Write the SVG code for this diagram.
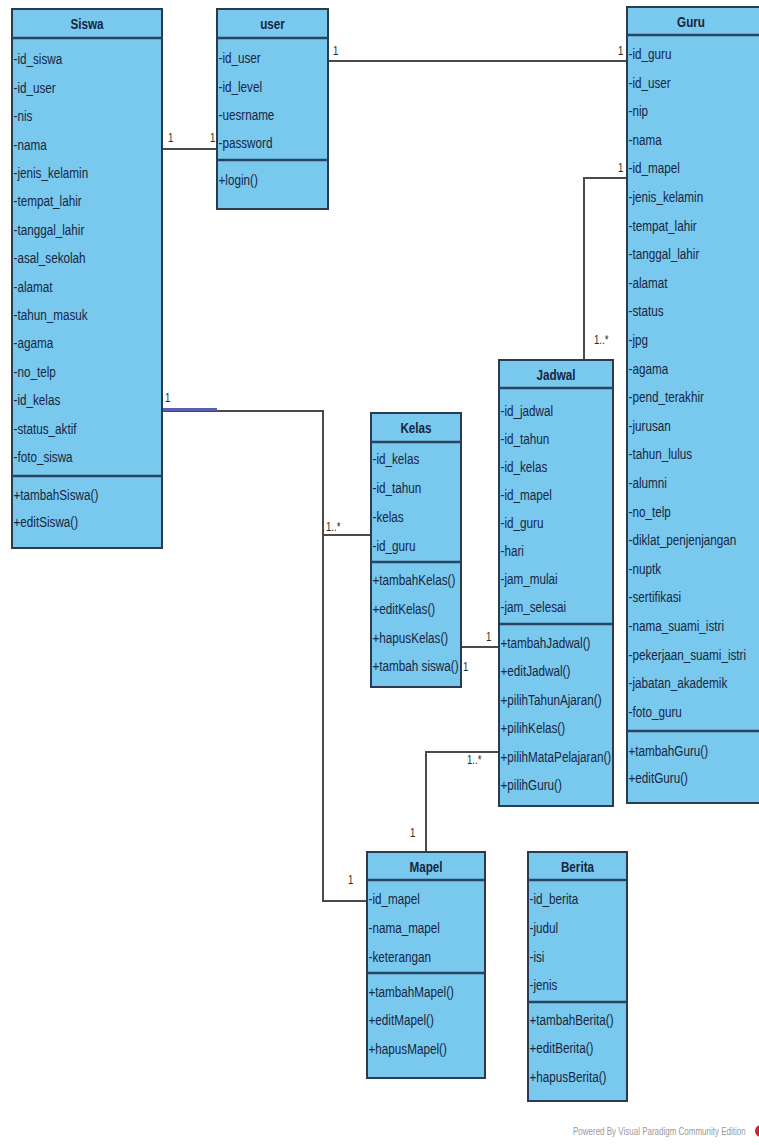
<svg xmlns="http://www.w3.org/2000/svg" width="759" height="1145" viewBox="0 0 759 1145">
  <style>
    .box { fill: #79c9ef; stroke: #2b3a4c; stroke-width: 2; }
    .sep { stroke: #284460; stroke-width: 2.5; }
    .t { font-family: "Liberation Sans", Arial, sans-serif; font-size: 15px; fill: #17263f; }
    .h { font-weight: bold; text-anchor: middle; }
    .conn { fill: none; stroke: #4a4a4a; stroke-width: 2; }
    .lbl { font-family: "Liberation Sans", Arial, sans-serif; font-size: 12px; fill: #2a2a2a; }
    .wm { font-family: "Liberation Sans", Arial, sans-serif; font-size: 10px; fill: #9a9a9a; }
  </style>

  <rect width="759" height="1145" fill="#ffffff"/>

  <!-- associations -->
  <g id="connectors">
    <!-- Siswa - user -->
    <path class="conn" d="M162,149 H217"/>
    <!-- user - Guru -->
    <path class="conn" d="M328,61 H627"/>
    <!-- Guru - Jadwal -->
    <path class="conn" d="M627,178 H584 V360"/>
    <!-- Siswa - Kelas / Mapel -->
    <path class="conn" d="M162,411 H323 V901 H367"/>
    <path class="conn" d="M323,535 H371"/>
    <path d="M163,409.5 H217" stroke="#5b5fb0" stroke-width="3" fill="none"/>
    <!-- Kelas - Jadwal -->
    <path class="conn" d="M461,647 H499"/>
    <!-- Mapel - Jadwal -->
    <path class="conn" d="M426,852 V752 H499"/>

    <!-- multiplicities -->
    <text class="lbl" transform="translate(168,142) scale(0.8,1)">1</text>
    <text class="lbl" transform="translate(210,142) scale(0.8,1)">1</text>
    <text class="lbl" transform="translate(333,55) scale(0.8,1)">1</text>
    <text class="lbl" transform="translate(618,55) scale(0.8,1)">1</text>
    <text class="lbl" transform="translate(618,172) scale(0.8,1)">1</text>
    <text class="lbl" transform="translate(594,344) scale(0.8,1)">1..*</text>
    <text class="lbl" transform="translate(165,402) scale(0.8,1)">1</text>
    <text class="lbl" transform="translate(326,531) scale(0.8,1)">1..*</text>
    <text class="lbl" transform="translate(486,641) scale(0.8,1)">1</text>
    <text class="lbl" transform="translate(463,671) scale(0.8,1)">1</text>
    <text class="lbl" transform="translate(467,764) scale(0.8,1)">1..*</text>
    <text class="lbl" transform="translate(410,837) scale(0.8,1)">1</text>
    <text class="lbl" transform="translate(348,884) scale(0.8,1)">1</text>
  </g>

  <!-- Siswa -->
  <g id="siswa">
    <rect class="box" x="12" y="9" width="150" height="539"/>
    <line class="sep" x1="12" y1="38" x2="162" y2="38"/>
    <line class="sep" x1="12" y1="476" x2="162" y2="476"/>
    <text class="t h" transform="translate(87,29) scale(0.78,1)">Siswa</text>
    <g class="t" transform="translate(13.5,0) scale(0.78,1)">
      <text y="64.5">-id_siswa</text>
      <text y="92.9">-id_user</text>
      <text y="121.3">-nis</text>
      <text y="149.7">-nama</text>
      <text y="178.1">-jenis_kelamin</text>
      <text y="206.5">-tempat_lahir</text>
      <text y="234.9">-tanggal_lahir</text>
      <text y="263.3">-asal_sekolah</text>
      <text y="291.7">-alamat</text>
      <text y="320.1">-tahun_masuk</text>
      <text y="348.5">-agama</text>
      <text y="376.9">-no_telp</text>
      <text y="405.3">-id_kelas</text>
      <text y="433.7">-status_aktif</text>
      <text y="462.1">-foto_siswa</text>
      <text y="500">+tambahSiswa()</text>
      <text y="527">+editSiswa()</text>
    </g>
  </g>

  <!-- user -->
  <g id="user">
    <rect class="box" x="217" y="9" width="111" height="200"/>
    <line class="sep" x1="217" y1="38" x2="328" y2="38"/>
    <line class="sep" x1="217" y1="160" x2="328" y2="160"/>
    <text class="t h" transform="translate(272.5,29) scale(0.78,1)">user</text>
    <g class="t" transform="translate(218.5,0) scale(0.78,1)">
      <text y="63">-id_user</text>
      <text y="92">-id_level</text>
      <text y="120">-uesrname</text>
      <text y="148">-password</text>
      <text y="185">+login()</text>
    </g>
  </g>

  <!-- Guru -->
  <g id="guru">
    <rect class="box" x="627" y="7" width="134" height="796"/>
    <line class="sep" x1="627" y1="35" x2="761" y2="35"/>
    <line class="sep" x1="627" y1="731" x2="761" y2="731"/>
    <text class="t h" transform="translate(691,26.5) scale(0.78,1)">Guru</text>
    <g class="t" transform="translate(628.5,0) scale(0.78,1)">
      <text y="59">-id_guru</text>
      <text y="87.6">-id_user</text>
      <text y="116.2">-nip</text>
      <text y="144.8">-nama</text>
      <text y="173.4">-id_mapel</text>
      <text y="202">-jenis_kelamin</text>
      <text y="230.6">-tempat_lahir</text>
      <text y="259.2">-tanggal_lahir</text>
      <text y="287.8">-alamat</text>
      <text y="316.4">-status</text>
      <text y="345">-jpg</text>
      <text y="373.6">-agama</text>
      <text y="402.2">-pend_terakhir</text>
      <text y="430.8">-jurusan</text>
      <text y="459.4">-tahun_lulus</text>
      <text y="488">-alumni</text>
      <text y="516.6">-no_telp</text>
      <text y="545.2">-diklat_penjenjangan</text>
      <text y="573.8">-nuptk</text>
      <text y="602.4">-sertifikasi</text>
      <text y="631">-nama_suami_istri</text>
      <text y="659.6">-pekerjaan_suami_istri</text>
      <text y="688.2">-jabatan_akademik</text>
      <text y="716.8">-foto_guru</text>
      <text y="756">+tambahGuru()</text>
      <text y="783">+editGuru()</text>
    </g>
  </g>

  <!-- Jadwal -->
  <g id="jadwal">
    <rect class="box" x="499" y="360" width="114" height="446"/>
    <line class="sep" x1="499" y1="388" x2="613" y2="388"/>
    <line class="sep" x1="499" y1="624" x2="613" y2="624"/>
    <text class="t h" transform="translate(556,379.5) scale(0.78,1)">Jadwal</text>
    <g class="t" transform="translate(500.5,0) scale(0.78,1)">
      <text y="416">-id_jadwal</text>
      <text y="444">-id_tahun</text>
      <text y="472">-id_kelas</text>
      <text y="500">-id_mapel</text>
      <text y="528">-id_guru</text>
      <text y="556">-hari</text>
      <text y="584">-jam_mulai</text>
      <text y="612">-jam_selesai</text>
      <text y="648">+tambahJadwal()</text>
      <text y="676">+editJadwal()</text>
      <text y="705">+pilihTahunAjaran()</text>
      <text y="733">+pilihKelas()</text>
      <text y="762">+pilihMataPelajaran()</text>
      <text y="790">+pilihGuru()</text>
    </g>
  </g>

  <!-- Kelas -->
  <g id="kelas">
    <rect class="box" x="371" y="413" width="90" height="274"/>
    <line class="sep" x1="371" y1="442" x2="461" y2="442"/>
    <line class="sep" x1="371" y1="562" x2="461" y2="562"/>
    <text class="t h" transform="translate(416,433) scale(0.78,1)">Kelas</text>
    <g class="t" transform="translate(372.5,0) scale(0.78,1)">
      <text y="464">-id_kelas</text>
      <text y="493">-id_tahun</text>
      <text y="522">-kelas</text>
      <text y="551">-id_guru</text>
      <text y="585">+tambahKelas()</text>
      <text y="614">+editKelas()</text>
      <text y="643">+hapusKelas()</text>
      <text y="671">+tambah siswa()</text>
    </g>
  </g>

  <!-- Mapel -->
  <g id="mapel">
    <rect class="box" x="367" y="852" width="118" height="226"/>
    <line class="sep" x1="367" y1="880" x2="485" y2="880"/>
    <line class="sep" x1="367" y1="973" x2="485" y2="973"/>
    <text class="t h" transform="translate(426,871.5) scale(0.78,1)">Mapel</text>
    <g class="t" transform="translate(368.5,0) scale(0.78,1)">
      <text y="904">-id_mapel</text>
      <text y="933">-nama_mapel</text>
      <text y="962">-keterangan</text>
      <text y="997">+tambahMapel()</text>
      <text y="1025">+editMapel()</text>
      <text y="1054">+hapusMapel()</text>
    </g>
  </g>

  <!-- Berita -->
  <g id="berita">
    <rect class="box" x="528" y="852" width="99" height="249"/>
    <line class="sep" x1="528" y1="880" x2="627" y2="880"/>
    <line class="sep" x1="528" y1="1002" x2="627" y2="1002"/>
    <text class="t h" transform="translate(577.5,871.5) scale(0.78,1)">Berita</text>
    <g class="t" transform="translate(529.5,0) scale(0.78,1)">
      <text y="904">-id_berita</text>
      <text y="933">-judul</text>
      <text y="962">-isi</text>
      <text y="990">-jenis</text>
      <text y="1025">+tambahBerita()</text>
      <text y="1053">+editBerita()</text>
      <text y="1082">+hapusBerita()</text>
    </g>
  </g>

  <!-- footer -->
  <g id="footer">
    <text class="wm" transform="translate(573,1135) scale(0.8,1)">Powered By Visual Paradigm Community Edition</text>
    <circle cx="761" cy="1131" r="6" fill="#c0282d"/>
  </g>
</svg>
